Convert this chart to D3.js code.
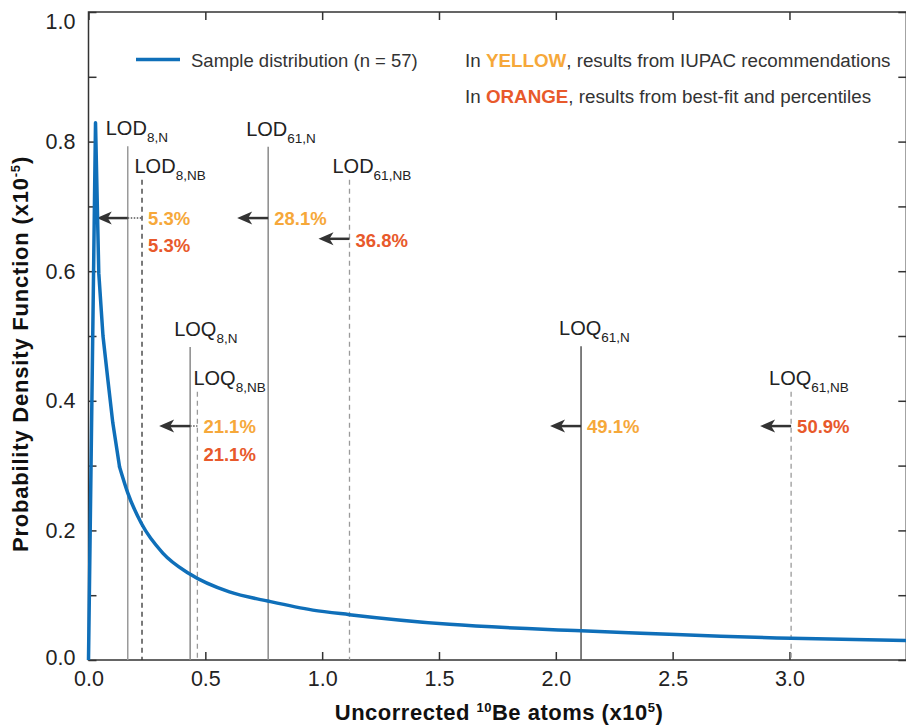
<!DOCTYPE html>
<html>
<head>
<meta charset="utf-8">
<script src="https://cdn.jsdelivr.net/npm/d3@7"></script>
<style>
  body { margin: 0; background: #fff; }
  text { font-family: "Liberation Sans", Arial, sans-serif; }
</style>
</head>
<body>
<svg id="chart"></svg>
<script>
const width = 906;
const height = 727;

// sample distribution (PDF, x10^-5)
const curveX = [0, 0.030, 0.044, 0.062, 0.083, 0.104, 0.133, 0.168, 0.226, 0.318, 0.432, 0.603, 0.767, 0.960, 1.117, 1.545, 2.108, 3.007, 3.496];
const curveY = [0, 0.829, 0.597, 0.500, 0.432, 0.366, 0.298, 0.258, 0.211, 0.165, 0.133, 0.105, 0.091, 0.077, 0.070, 0.055, 0.045, 0.0335, 0.030];

// detection / quantification limits
const limitBase = ['LOD', 'LOD', 'LOD', 'LOD', 'LOQ', 'LOQ', 'LOQ', 'LOQ'];
const limitSub = ['8,N', '8,NB', '61,N', '61,NB', '8,N', '8,NB', '61,N', '61,NB'];
const limitValues = [0.168, 0.229, 0.769, 1.117, 0.435, 0.466, 2.108, 3.007];

// percentages of samples below the limit
const iupacPct = ['5.3%', '28.1%', '21.1%', '49.1%'];
const fitPct = ['5.3%', '36.8%', '21.1%', '50.9%'];

const xTicks = [0, 0.5, 1.0, 1.5, 2.0, 2.5, 3.0];
const yTicks = [0, 0.1, 0.2, 0.3, 0.4, 0.5, 0.6, 0.7, 0.8, 0.9, 1.0];

const yellow = '#F6A83A';
const orange = '#E8592B';
const blue = '#0F6FB9';

const svg = d3.select('#chart').attr('width', width).attr('height', height);

const x = d3.scaleLinear().domain([0, 3.5]).range([88.5, 906.3]);
const y = d3.scaleLinear().domain([0, 1]).range([660, 12]);

// ticks (inward)
const xAxis = svg.append('g').attr('transform', `translate(0, ${y(0)})`)
    .call(d3.axisBottom(x).tickValues(xTicks).tickFormat(d3.format('.1f')).tickSize(-8).tickPadding(11));
const xTop = svg.append('g').attr('transform', `translate(0, ${y(1)})`)
    .call(d3.axisTop(x).tickValues(xTicks).tickFormat('').tickSize(-8));
const yAxis = svg.append('g').attr('transform', `translate(${x(0)}, 0)`)
    .call(d3.axisLeft(y).tickValues(yTicks).tickFormat(d => Math.round(d * 10) % 2 === 0 ? d3.format('.1f')(d) : '').tickSize(-8).tickPadding(13));
const yRight = svg.append('g').attr('transform', `translate(${x(3.5)}, 0)`)
    .call(d3.axisRight(y).tickValues(yTicks).tickFormat('').tickSize(-8));

[xAxis, xTop, yAxis, yRight].forEach(g => {
    g.select('.domain').remove();
    g.selectAll('line').attr('stroke', '#333').attr('stroke-width', 1.5);
    g.selectAll('text').attr('fill', '#222').style('font-size', '21.5px');
});
yAxis.selectAll('text').filter(d => d === 1).attr('dy', '0.75em');
yAxis.selectAll('text').filter(d => d === 0).attr('dy', '0.2em');

// frame
svg.append('rect')
    .attr('x', x(0)).attr('y', y(1))
    .attr('width', x(3.5) - x(0)).attr('height', y(0) - y(1))
    .attr('fill', 'none').attr('stroke', '#333').attr('stroke-width', 1.5);

// annotation layout: line top level, label offset, style
const limitTop = [0.793, 0.741, 0.792, 0.741, 0.483, 0.414, 0.484, 0.414];
const labelDx = [-22, -7.5, -22, -17, -16, -4, -22, -22];
const limitColor = ['#9a9a9a', '#333', '#8a8a8a', '#9a9a9a', '#8a8a8a', '#9a9a9a', '#555', '#9a9a9a'];
const limitDashed = [false, true, false, true, false, true, false, true];

limitValues.forEach((v, i) => {
    svg.append('line')
        .attr('x1', x(v)).attr('x2', x(v))
        .attr('y1', y(limitTop[i])).attr('y2', y(0))
        .attr('stroke', limitColor[i])
        .attr('stroke-width', limitDashed[i] ? 1.3 : 1.5)
        .attr('stroke-dasharray', limitDashed[i] ? '5,4' : null);

    const t = svg.append('text')
        .attr('x', x(v) + labelDx[i])
        .attr('y', y(limitTop[i]) - (limitDashed[i] ? 7 : 11))
        .attr('fill', '#222')
        .style('font-size', '20px');
    t.append('tspan').text(limitBase[i]);
    t.append('tspan').attr('dy', 7).style('font-size', '13.5px').text(limitSub[i]);
});

// arrows: limit index the arrow starts from, level, dotted link to limit index
const arrows = [
    { from: 0, level: 0.682, link: 1 },
    { from: 2, level: 0.682, link: null },
    { from: 3, level: 0.650, link: null },
    { from: 4, level: 0.361, link: 5 },
    { from: 6, level: 0.361, link: null },
    { from: 7, level: 0.361, link: null }
];
const arrowLen = 31;

arrows.forEach(a => {
    const x0 = x(limitValues[a.from]);
    const yy = y(a.level);
    const tip = x0 - arrowLen;
    svg.append('line')
        .attr('x1', x0).attr('x2', tip + 10)
        .attr('y1', yy).attr('y2', yy)
        .attr('stroke', '#333').attr('stroke-width', 2.5);
    svg.append('path')
        .attr('d', `M${tip},${yy} L${tip + 15},${yy - 6.5} L${tip + 11},${yy} L${tip + 15},${yy + 6.5} Z`)
        .attr('fill', '#333');
    if (a.link !== null) {
        svg.append('line')
            .attr('x1', x0).attr('x2', x(limitValues[a.link]))
            .attr('y1', yy).attr('y2', yy)
            .attr('stroke', '#555').attr('stroke-width', 1.5)
            .attr('stroke-dasharray', '1.5,1.5');
    }
});

// percentage labels
const pctLabels = [
    { text: iupacPct[0], color: yellow, at: 1, level: 0.682 },
    { text: fitPct[0], color: orange, at: 1, level: 0.640 },
    { text: iupacPct[1], color: yellow, at: 2, level: 0.682 },
    { text: fitPct[1], color: orange, at: 3, level: 0.648 },
    { text: iupacPct[2], color: yellow, at: 5, level: 0.361 },
    { text: fitPct[2], color: orange, at: 5, level: 0.318 },
    { text: iupacPct[3], color: yellow, at: 6, level: 0.361 },
    { text: fitPct[3], color: orange, at: 7, level: 0.361 }
];

pctLabels.forEach(p => {
    svg.append('text')
        .attr('x', x(limitValues[p.at]) + 6)
        .attr('y', y(p.level))
        .attr('dy', '0.36em')
        .attr('fill', p.color)
        .style('font-size', '18.5px')
        .style('font-weight', 'bold')
        .text(p.text);
});

// distribution curve: sharp rise and first drop drawn straight, tail smoothed
const points = curveX.map((d, i) => [d, curveY[i]]);
const head = points.slice(0, 7);
const tail = points.slice(6);
svg.append('path')
    .datum(head)
    .attr('fill', 'none')
    .attr('stroke', blue)
    .attr('stroke-width', 3.5)
    .attr('stroke-linejoin', 'round')
    .attr('d', d3.line().x(p => x(p[0])).y(p => y(p[1])));
svg.append('path')
    .datum(tail)
    .attr('fill', 'none')
    .attr('stroke', blue)
    .attr('stroke-width', 3.5)
    .attr('stroke-linecap', 'round')
    .attr('d', d3.line().x(p => x(p[0])).y(p => y(p[1])).curve(d3.curveMonotoneX));

// legend
svg.append('line')
    .attr('x1', 136).attr('x2', 180).attr('y1', 59.5).attr('y2', 59.5)
    .attr('stroke', blue).attr('stroke-width', 3.5);
svg.append('text')
    .attr('x', 191).attr('y', 60).attr('dy', '0.36em')
    .attr('fill', '#333').style('font-size', '18.5px')
    .text('Sample distribution (n = 57)');

const note1 = svg.append('text').attr('x', 465).attr('y', 60).attr('dy', '0.36em')
    .attr('fill', '#333').style('font-size', '18.8px');
note1.append('tspan').text('In ');
note1.append('tspan').attr('fill', yellow).style('font-weight', 'bold').text('YELLOW');
note1.append('tspan').text(', results from IUPAC recommendations');

const note2 = svg.append('text').attr('x', 465).attr('y', 96).attr('dy', '0.36em')
    .attr('fill', '#333').style('font-size', '18.8px');
note2.append('tspan').text('In ');
note2.append('tspan').attr('fill', orange).style('font-weight', 'bold').text('ORANGE');
note2.append('tspan').text(', results from best-fit and percentiles');

// axis titles
const xTitle = svg.append('text')
    .attr('x', 499).attr('y', 720)
    .attr('text-anchor', 'middle')
    .attr('fill', '#111').style('font-size', '22px').style('font-weight', 'bold')
    .style('letter-spacing', '0.5px');
xTitle.append('tspan').text('Uncorrected ');
xTitle.append('tspan').attr('dy', -8).style('font-size', '13px').text('10');
xTitle.append('tspan').attr('dy', 8).text('Be atoms (x10');
xTitle.append('tspan').attr('dy', -8).style('font-size', '13px').text('5');
xTitle.append('tspan').attr('dy', 8).text(')');

const yTitle = svg.append('text')
    .attr('transform', 'translate(28, 354) rotate(-90)')
    .attr('text-anchor', 'middle')
    .attr('fill', '#111').style('font-size', '22px').style('font-weight', 'bold')
    .style('letter-spacing', '0.8px');
yTitle.append('tspan').text('Probability Density Function (x10');
yTitle.append('tspan').attr('dy', -8).style('font-size', '13px').text('-5');
yTitle.append('tspan').attr('dy', 8).text(')');
</script>
</body>
</html>
